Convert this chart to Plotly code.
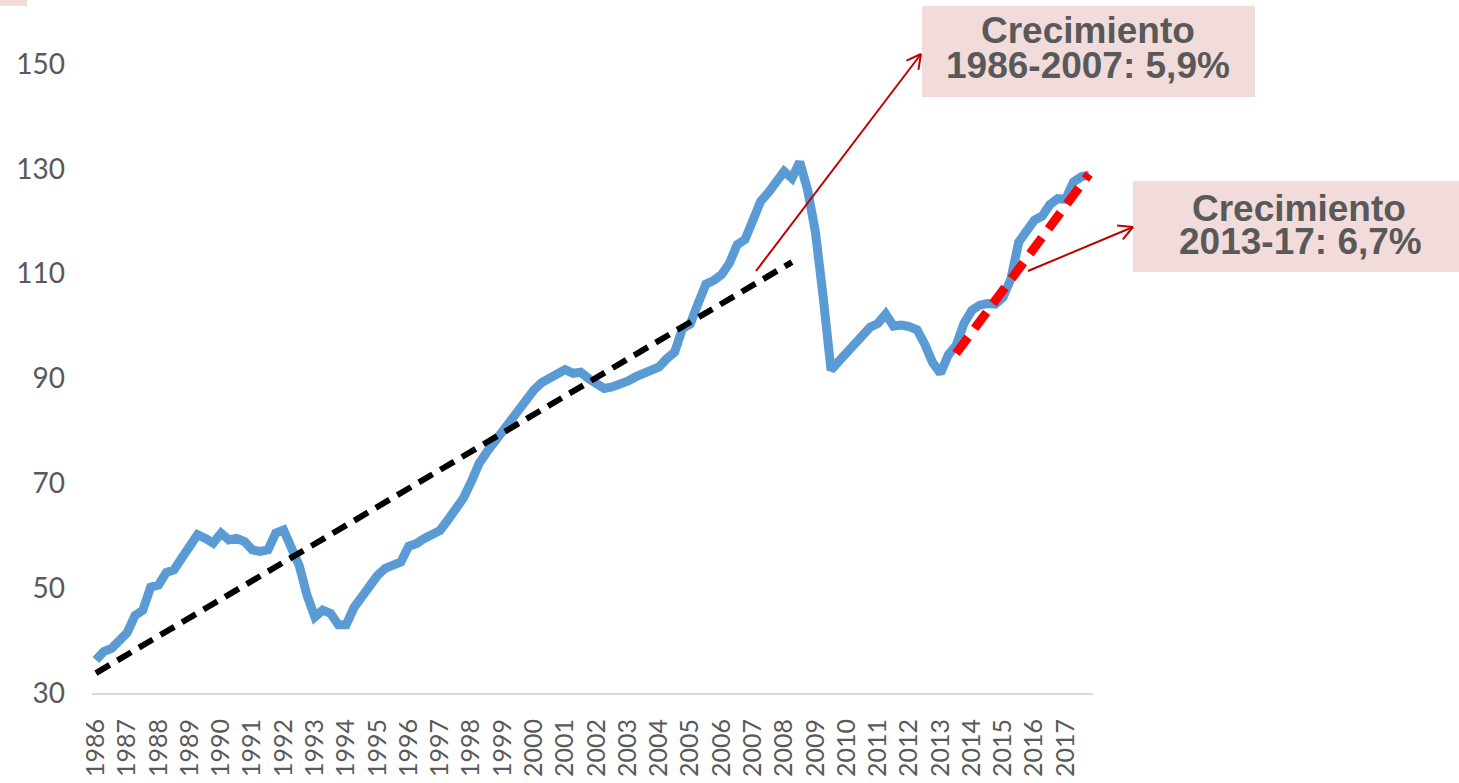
import numpy as np
import plotly.graph_objects as go

# Quarterly index, 1986T1 .. 2017T4
years = list(range(1986, 2018))
precio = [
    36.3, 37.9, 38.5, 40.0, 41.5, 44.8, 45.8, 50.2,
    50.6, 53.0, 53.5, 55.8, 57.9, 60.2, 59.5, 58.6,
    60.5, 59.2, 59.5, 58.9, 57.3, 57.0, 57.3, 60.5,
    61.1, 58.0, 54.3, 48.6, 44.5, 45.8, 45.2, 43.0,
    43.0, 46.3, 48.5, 50.5, 52.4, 53.8, 54.6, 55.0,
    58.0, 58.5, 59.5, 60.2, 61.0, 63.0, 65.2, 67.2,
    70.3, 73.8, 76.0, 78.0, 80.2, 82.2, 84.3, 86.2,
    87.8, 89.2, 90.0, 90.8, 91.7, 91.0, 91.2, 90.0,
    88.8, 88.1, 88.4, 88.8, 89.5, 90.3, 91.0, 91.5,
    92.2, 93.8, 95.0, 99.5, 100.4, 104.3, 108.0, 108.7,
    109.8, 112.0, 115.5, 116.5, 120.0, 123.8, 125.5, 127.3,
    129.5, 128.2, 131.3, 126.0, 118.0, 105.5, 91.6, 93.3,
    95.0, 96.8, 98.5, 99.8, 100.5, 102.3, 100.0, 100.2,
    99.9, 99.3, 96.5, 93.0, 91.0, 94.5, 96.3, 100.5,
    103.0, 104.0, 104.3, 104.2, 105.5, 109.0, 116.0, 118.5,
    120.2, 121.0, 123.2, 124.3, 124.2, 127.5, 128.5, 128.8,
]

# Trend lines (quarter index, value)
tend_8607_x = [0, 89]
tend_8607_y = [33.8, 112.2]
tend_1317_x = [110, 127]
tend_1317_y = [94.8, 129.0]

y_ticks = [30, 50, 70, 90, 110, 130, 150]

W, H = 1459, 783
ML, MR, MT, MB = 92, 366, 64, 90
PW = W - ML - MR
PH = H - MT - MB


def px(x):
    return (x - ML) / PW


def py(y):
    return (H - MB - y) / PH


GRAY = "#595959"
BOX = "#F2DCDB"
ARROW = "#C00000"

fig = go.Figure()
fig.add_trace(go.Scatter(
    x=np.arange(len(precio)), y=precio, mode="lines",
    line=dict(color="#5B9BD5", width=9), hoverinfo="skip"))
fig.add_trace(go.Scatter(
    x=tend_8607_x, y=tend_8607_y, mode="lines",
    line=dict(color="#000000", width=6, dash="16px,9px"), hoverinfo="skip"))
fig.add_trace(go.Scatter(
    x=tend_1317_x, y=tend_1317_y, mode="lines",
    line=dict(color="#FF0000", width=9, dash="20px,11px"), hoverinfo="skip"))

shapes = []


def rect(x0, y0, x1, y1):
    shapes.append(dict(type="rect", xref="paper", yref="paper",
                       x0=px(x0), x1=px(x1), y0=py(y1), y1=py(y0),
                       fillcolor=BOX, line=dict(width=0), layer="below"))


def seg(x0, y0, x1, y1):
    shapes.append(dict(type="line", xref="paper", yref="paper",
                       x0=px(x0), y0=py(y0), x1=px(x1), y1=py(y1),
                       line=dict(color=ARROW, width=2)))


def arrow(tail, tip, head=16, spread=np.radians(28)):
    seg(*tail, *tip)
    d = np.array(tail, float) - np.array(tip, float)
    d /= np.hypot(*d)
    for s in (spread, -spread):
        c, sn = np.cos(s), np.sin(s)
        r = np.array([d[0] * c - d[1] * sn, d[0] * sn + d[1] * c])
        seg(tip[0], tip[1], tip[0] + head * r[0], tip[1] + head * r[1])


rect(0, 0, 27, 6)
rect(922, 6, 1255, 97)
rect(1133, 181, 1459, 272)
arrow((756, 271), (921, 54))
arrow((1028, 271), (1133, 227))

annotations = []


def label(text, x, y):
    annotations.append(dict(
        text=f"<b>{text}</b>", xref="paper", yref="paper",
        x=px(x), y=py(y), xanchor="center", yanchor="middle",
        showarrow=False,
        font=dict(family="Liberation Sans, Arial", size=37, color=GRAY)))


label("Crecimiento", 1088, 30)
label("1986-2007: 5,9%", 1088, 65)
label("Crecimiento", 1299, 208)
label("2013-17: 6,7%", 1300, 241)

yfont = dict(family="Lato", size=28, color=GRAY)
xfont = dict(family="Lato", size=25, color=GRAY)

fig.update_layout(
    width=W, height=H,
    margin=dict(l=ML, r=MR, t=MT, b=MB, pad=0),
    paper_bgcolor="white", plot_bgcolor="white",
    showlegend=False,
    shapes=shapes, annotations=annotations,
    xaxis=dict(
        range=[-0.5, len(precio) - 0.5],
        tickvals=[4 * k for k in range(len(years))],
        ticktext=[str(y) for y in years],
        tickangle=-90, tickfont=xfont,
        showgrid=False, zeroline=False,
        showline=True, linecolor="#D9D9D9", linewidth=2,
        ticks="", ticklabelstandoff=14, automargin=False,
    ),
    yaxis=dict(
        range=[30, 150], tickvals=y_ticks, tickfont=yfont,
        showgrid=False, zeroline=False, showline=False,
        ticks="", ticklabelstandoff=26, automargin=False,
    ),
)

fig.write_html("out.html")
